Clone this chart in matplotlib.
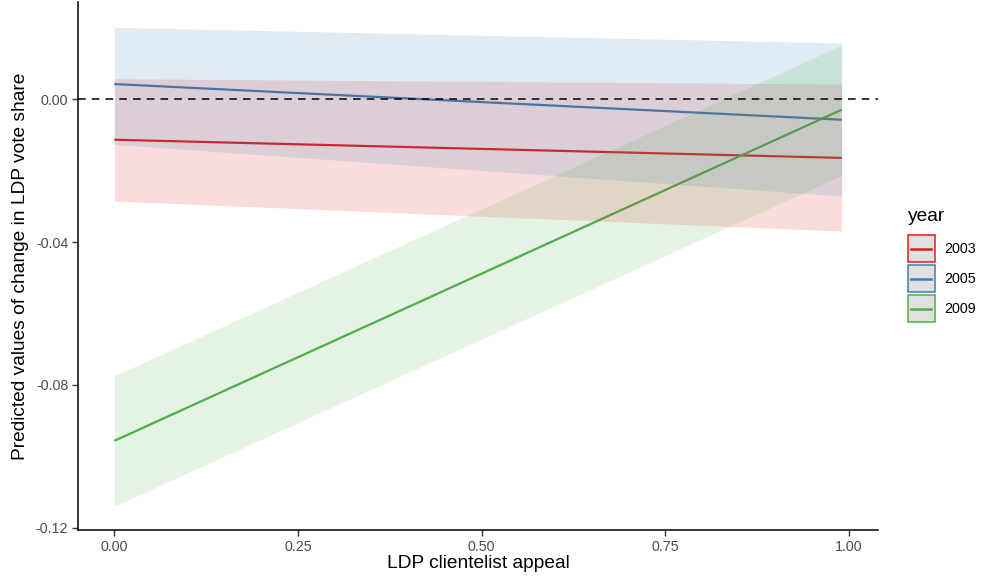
import matplotlib
matplotlib.use("Agg")
import matplotlib.pyplot as plt
from matplotlib.patches import Rectangle
from matplotlib.lines import Line2D

plt.rcParams['font.family'] = ['Liberation Sans', 'DejaVu Sans']

# Data
x_vals = [0.0, 0.99]
years = ["2003", "2005", "2009"]
pred_2003 = [-0.0113, -0.0164]
low_2003 = [-0.0285, -0.0369]
high_2003 = [0.0058, 0.0043]
pred_2005 = [0.0043, -0.0057]
low_2005 = [-0.0126, -0.0271]
high_2005 = [0.0202, 0.0158]
pred_2009 = [-0.0957, -0.0029]
low_2009 = [-0.1140, -0.0213]
high_2009 = [-0.0775, 0.0152]
xticks = [0.0, 0.25, 0.50, 0.75, 1.00]
xticklabels = ["0.00", "0.25", "0.50", "0.75", "1.00"]
yticks = [0.0, -0.04, -0.08, -0.12]
yticklabels = ["0.00", "-0.04", "-0.08", "-0.12"]

colors = ["#E41A1C", "#377EB8", "#4DAF4A"]
preds = [pred_2003, pred_2005, pred_2009]
lows = [low_2003, low_2005, low_2009]
highs = [high_2003, high_2005, high_2009]

W, H = 990, 579
fig = plt.figure(figsize=(W / 100, H / 100), dpi=100)
ax = fig.add_axes([78 / W, (H - 530) / H, 800 / W, 528 / H])

for p, c in zip(preds, colors):
    ax.plot(x_vals, p, color=c, lw=1.6, zorder=2, solid_capstyle='butt')
for lo, hi, c in zip(lows, highs, colors):
    ax.fill_between(x_vals, lo, hi, color=c, alpha=0.15, lw=0, zorder=3)

ax.axhline(0, color='black', lw=1.1, dashes=(5, 4), zorder=4)

ax.set_xlim(-0.0495, 1.0395)
ax.set_ylim(-0.1207, 0.0273)
ax.set_xticks(xticks)
ax.set_xticklabels(xticklabels)
ax.set_yticks(yticks)
ax.set_yticklabels(yticklabels)

for s in ['top', 'right']:
    ax.spines[s].set_visible(False)
for s in ['left', 'bottom']:
    ax.spines[s].set_linewidth(1.1)
    ax.spines[s].set_color('black')
ax.tick_params(axis='both', length=4, width=1.0, color='#333333',
               labelsize=10.3, labelcolor='#4D4D4D', pad=3)

ax.set_xlabel("LDP clientelist appeal", fontsize=13.8, color='black', labelpad=1)
ax.set_ylabel("Predicted values of change in LDP vote share", fontsize=13.8,
              color='black', labelpad=5)


class KeyHandler:
    def legend_artist(self, legend, orig_handle, fontsize, handlebox):
        x0, y0 = -handlebox.xdescent, -handlebox.ydescent
        w, h = handlebox.width, handlebox.height
        c = orig_handle.get_color()
        rect = Rectangle((x0 + 0.5, y0 + 0.5), w - 1, h - 1, facecolor='#E0E0E0',
                         edgecolor=c, lw=1.1, transform=handlebox.get_transform())
        line = Line2D([x0 + 3, x0 + w - 3], [y0 + h / 2, y0 + h / 2], color=c, lw=1.8,
                      transform=handlebox.get_transform())
        handlebox.add_artist(rect)
        handlebox.add_artist(line)
        return rect


handles = [Line2D([0], [0], color=c) for c in colors]
leg = fig.legend(handles, years,
                 handler_map={Line2D: KeyHandler()},
                 loc='upper left', bbox_to_anchor=(907 / W, 1 - 234.5 / H),
                 frameon=False, fontsize=10.3,
                 handlelength=2.0, handleheight=2.64, handletextpad=0.6,
                 labelspacing=0.14, borderaxespad=0, borderpad=0)
fig.text(908 / W, 1 - 221 / H, "year", fontsize=13.8, color='black',
         ha='left', va='baseline')

fig.savefig("out.png", dpi=100)
